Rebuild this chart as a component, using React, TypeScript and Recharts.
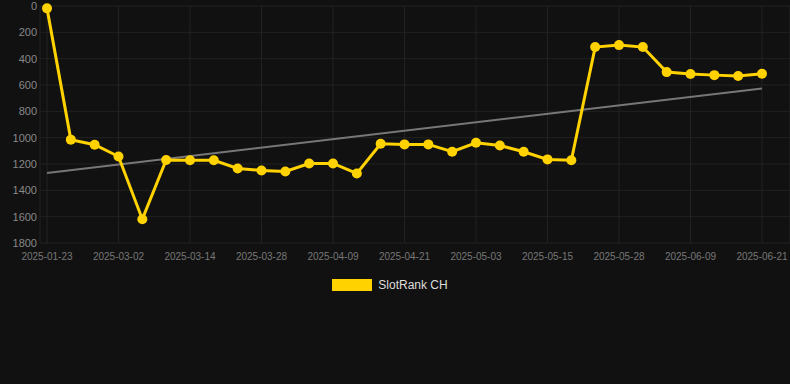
import { CartesianGrid, Legend, Line, LineChart, XAxis, YAxis } from "recharts";

const dates = [
  "2025-01-23", "2025-02-05", "2025-02-18", "2025-03-02", "2025-03-06",
  "2025-03-10", "2025-03-14", "2025-03-19", "2025-03-23", "2025-03-28",
  "2025-04-01", "2025-04-05", "2025-04-09", "2025-04-13", "2025-04-17",
  "2025-04-21", "2025-04-25", "2025-04-29", "2025-05-03", "2025-05-07",
  "2025-05-11", "2025-05-15", "2025-05-19", "2025-05-24", "2025-05-28",
  "2025-06-01", "2025-06-05", "2025-06-09", "2025-06-13", "2025-06-17",
  "2025-06-21",
];

const ranks = [
  18, 1015, 1054, 1143, 1619, 1170, 1172, 1172, 1234, 1249,
  1257, 1196, 1196, 1272, 1046, 1051, 1051, 1107, 1039, 1059,
  1107, 1165, 1172, 312, 297, 312, 502, 517, 525, 532,
  515,
];

const trendStart = 1268;
const trendEnd = 626;

const yTicks = [0, 200, 400, 600, 800, 1000, 1200, 1400, 1600, 1800];

const data = dates.map((d, i) => ({
  date: d,
  rank: ranks[i],
  trend: i === 0 ? trendStart : i === dates.length - 1 ? trendEnd : null,
}));

const font = "Helvetica, Arial, 'Liberation Sans', sans-serif";

function LegendBox() {
  return (
    <div
      style={{
        display: "flex",
        justifyContent: "center",
        alignItems: "center",
        paddingTop: 10,
        paddingRight: 10,
        fontFamily: font,
        fontSize: 12,
        color: "#ddd",
      }}
    >
      <span
        style={{
          display: "inline-block",
          width: 40,
          height: 12,
          background: "#FFD200",
          marginRight: 6,
        }}
      />
      SlotRank CH
    </div>
  );
}

export default function App() {
  return (
    <div
      style={{
        position: "absolute",
        left: 0,
        top: 0,
        width: 790,
        height: 384,
        background: "#111111",
      }}
    >
      <LineChart
        width={790}
        height={384}
        data={data}
        margin={{ top: 6, right: 0, bottom: 0, left: 0 }}
      >
        <CartesianGrid stroke="#222" />
        <XAxis
          dataKey="date"
          interval={2}
          tickLine={false}
          axisLine={false}
          tickSize={6}
          tickMargin={4}
          height={25}
          padding={{ left: 7, right: 28 }}
          tick={{ fill: "#777", fontSize: 10, fontFamily: font }}
        />
        <YAxis
          reversed
          domain={[0, 1800]}
          ticks={yTicks}
          width={40}
          tickLine={false}
          axisLine={false}
          tickSize={3}
          tickMargin={0}
          tick={{ fill: "#888", fontSize: 11, fontFamily: font }}
        />
        <Legend
          verticalAlign="bottom"
          height={116}
          content={() => <LegendBox />}
        />
        <Line
          dataKey="trend"
          stroke="#777"
          strokeWidth={2}
          dot={false}
          connectNulls
          legendType="none"
          isAnimationActive={false}
        />
        <Line
          dataKey="rank"
          stroke="#FFD200"
          strokeWidth={3}
          dot={{ r: 5, fill: "#FFD200", stroke: "#FFD200", strokeWidth: 0 }}
          isAnimationActive={false}
        />
      </LineChart>
    </div>
  );
}
